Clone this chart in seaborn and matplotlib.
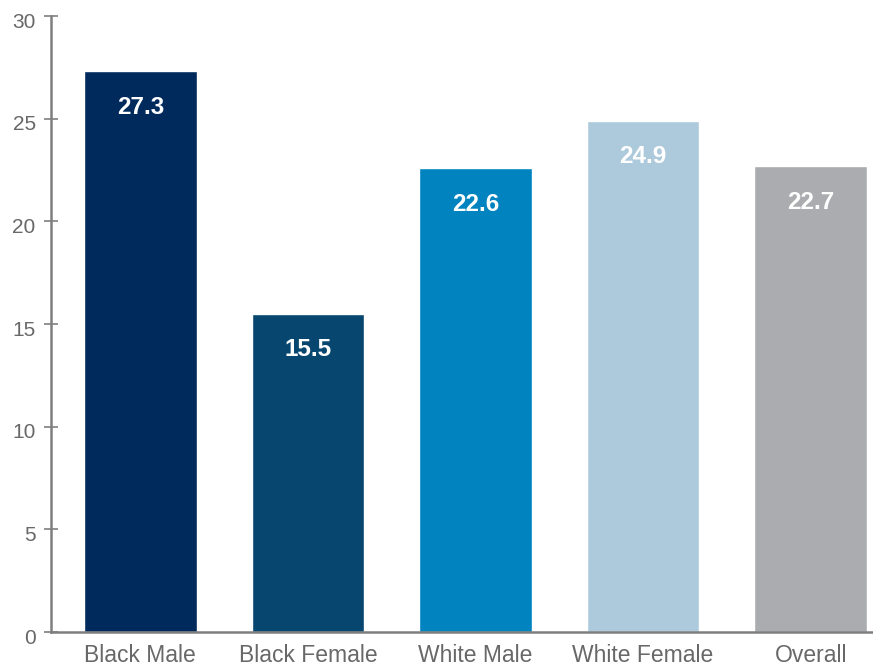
import matplotlib
matplotlib.use("Agg")
import matplotlib.pyplot as plt
import matplotlib.transforms as mtransforms
import seaborn as sns
import pandas as pd

categories = ["Black Male", "Black Female", "White Male", "White Female", "Overall"]
values = [27.3, 15.5, 22.6, 24.9, 22.7]
colors = ["#00295C", "#07466E", "#0083BE", "#ADCADC", "#ABACB0"]
yticks = [0, 5, 10, 15, 20, 25, 30]

sns.set_theme(style="white")
plt.rcParams["font.family"] = ["Liberation Sans", "DejaVu Sans"]

df = pd.DataFrame({"group": categories, "value": values})

fig = plt.figure(figsize=(8.73, 6.66), dpi=100)
ax = fig.add_axes([51 / 873, 34 / 666, 1 - 51 / 873, (632 - 16) / 666])

sns.barplot(data=df, x="group", y="value", hue="group", palette=colors,
            order=categories, hue_order=categories, width=0.673,
            legend=False, saturation=1, ax=ax)

ax.set_xlim(-0.533, 4.372)
ax.set_ylim(0, 30)
ax.set_yticks(yticks)
ax.set_xlabel("")
ax.set_ylabel("")

axis_gray = "#7F7F7F"
for side in ["top", "right"]:
    ax.spines[side].set_visible(False)
for side in ["left", "bottom"]:
    ax.spines[side].set_color(axis_gray)
    ax.spines[side].set_linewidth(1.8)

ax.tick_params(axis="y", direction="inout", length=10, width=1.2,
               color=axis_gray, labelcolor="#686868", labelsize=15, pad=6, left=True)
ax.tick_params(axis="x", length=0, labelcolor="#686868", labelsize=16.5, pad=9)

# nudge the y tick labels slightly below their ticks
shift = mtransforms.ScaledTranslation(0, -4 / 100, fig.dpi_scale_trans)
for lbl in ax.get_yticklabels():
    lbl.set_transform(lbl.get_transform() + shift)

for i, v in enumerate(values):
    ax.annotate(f"{v:.1f}", xy=(i, v), xytext=(0, -26), textcoords="offset points",
                ha="center", va="center", color="white", fontsize=17.5,
                fontweight="bold")

fig.savefig("out.png", dpi=100)
